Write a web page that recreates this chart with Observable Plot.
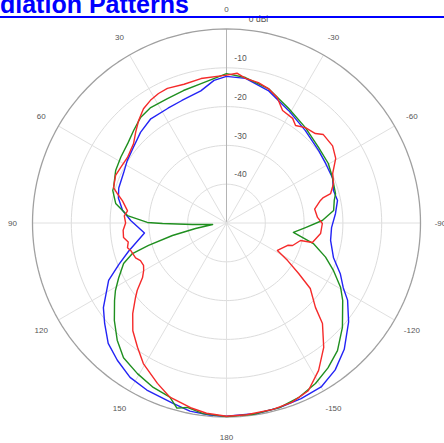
<!DOCTYPE html>
<html>
<head>
<meta charset="utf-8">
<script src="https://cdn.jsdelivr.net/npm/d3@7"></script>
<script src="https://cdn.jsdelivr.net/npm/@observablehq/plot@0.6"></script>
<style>
  html, body { margin: 0; padding: 0; background: #fff; }
  #wrap { position: relative; width: 444px; height: 443px; overflow: hidden; font-family: "Liberation Sans", Arial, sans-serif; }
  #title { position: absolute; left: 0; top: -8px; font-size: 25px; line-height: 25px; font-weight: bold; color: #0000ff; white-space: nowrap; z-index: 2; }
  #rule { position: absolute; left: 0; top: 16px; width: 444px; height: 2px; background: #0000ff; z-index: 2; }
  #chart { position: absolute; left: 0; top: 0; }
</style>
</head>
<body>
<div id="wrap">
  <div id="chart"></div>
  <div id="title">diation Patterns</div>
  <div id="rule"></div>
</div>
<script>
// Angle in degrees (positive = counter-clockwise from top), gain in dBi
const angleTicks = [0, 30, 60, 90, 120, 150, 180, -150, -120, -90, -60, -30];
const ringLevels = [0, -10, -20, -30, -40];
const ringLabels = ["0 dBi", "-10", "-20", "-30", "-40"];

const blue = [
  [0,-12.2],[5,-13.1],[11,-15.3],[20,-16.4],[27,-16.8],[36,-16.8],[43.5,-17.8],[51,-19.1],[58,-19.8],[64,-20.5],
  [72,-20.8],[77,-21.4],[83,-23.0],[88.5,-25.3],[97,-28.7],[106,-23.8],[111,-20.3],[116,-16.2],[124.5,-11.5],
  [129.5,-9.3],[135.5,-6.5],[141.5,-4.8],[148,-3.1],[154.5,-2.3],[163.5,-1.5],[169,-0.6],[175,-0.3],[180,-0.2],
  [-171,-0.3],[-164,-0.5],[-157,-0.8],[-150,-1.2],[-143.5,-2.9],[-137,-5.5],[-129,-9.5],[-122.5,-13.0],[-119,-15.6],
  [-114,-17.9],[-108,-21.0],[-99.5,-22.8],[-92.5,-22.9],[-85,-21.8],[-78.5,-20.8],[-73,-21.2],[-67,-20.3],
  [-59,-20.2],[-52,-19.8],[-40.5,-18.7],[-29,-16.9],[-17.5,-14.2],[-7.5,-12.4]
];

const green = [
  [0,-11.5],[10.6,-13.5],[18,-14.1],[25.4,-14.5],[33.3,-14.4],[39,-14.9],[45,-16.2],[51,-17.3],[58,-17.9],
  [64.7,-18.4],[72.6,-19.5],[74,-19.5],[80,-21.0],[85.7,-24.4],[89.6,-29.6],[90.4,-33.5],[92.5,-41.2],[96,-46.4],
  [100,-41.9],[103,-35.7],[106,-29.1],[108,-24.5],[111.5,-21.5],[117,-18.8],[121.3,-16.5],[124.7,-14.9],
  [131,-11.7],[137,-8.7],[142.6,-6.3],[149.4,-4.9],[156,-3.6],[162,-2.8],[165,-0.6],[168,-1.4],[173,-0.5],[180,-0.1],
  [-172,-0.2],[-164,-0.5],[-157.6,-1.3],[-151,-2.7],[-145,-4.4],[-139,-6.4],[-132,-9.8],[-123.7,-14.0],
  [-119.5,-16.2],[-114,-19.8],[-109,-23.0],[-103.3,-27.0],[-100.8,-30.1],[-98,-32.6],[-93.3,-29.6],[-88.5,-25.3],
  [-83.3,-22.2],[-78,-21.6],[-75,-20.9],[-69.7,-20.6],[-66.8,-20.3],[-59.7,-19.6],[-50.6,-19.3],[-39.6,-18.1],
  [-28.4,-16.4],[-17.3,-13.7],[-7.4,-12.2]
];

const red = [
  [0,-11.9],[10,-12.2],[17,-12.6],[23.7,-12.1],[27.7,-12.3],[31.8,-12.8],[36,-13.6],[40.6,-15.2],[45,-16.9],
  [49.5,-18.5],[56.5,-19.4],[62.4,-19.2],[66.8,-18.9],[72.6,-19.5],[75,-20.9],[78,-22.6],[83,-24.3],[86,-23.6],
  [90,-24.0],[94,-23.3],[98,-23.2],[101,-24.2],[104,-23.7],[106,-24.3],[111,-24.9],[113.6,-25.8],[117,-26.0],
  [119.8,-25.4],[123,-24.2],[127,-21.2],[129.3,-19.7],[134,-16.4],[139,-13.2],[144.4,-10.6],[149.4,-7.9],
  [156.7,-5.0],[162,-2.8],[169,-1.5],[174,-0.7],[180,-0.2],
  [-174,-0.3],[-166,-0.5],[-160,-0.8],[-154,-1.9],[-148,-5.2],[-142,-9.3],[-136.3,-14.2],[-133.5,-18.4],
  [-128,-22.6],[-125,-27.3],[-121.6,-31.5],[-118.3,-35.1],[-110,-33.2],[-108.8,-32.0],[-103.3,-30.4],
  [-102.8,-27.3],[-96.4,-25.6],[-90.3,-25.3],[-86.5,-26.5],[-81,-27.0],[-76.5,-25.1],[-75.3,-24.2],
  [-74.2,-22.1],[-69.7,-20.6],[-65,-19.8],[-59.4,-17.3],[-54,-16.2],[-47.6,-16.2],[-44.8,-17.5],[-39.6,-18.1],
  [-35.3,-19.2],[-32.3,-18.1],[-26.5,-17.6],[-22,-15.1],[-17.3,-13.7],[-12.8,-12.9],[-7.5,-12.4],[-4,-11.3]
];

const series = [
  {data: blue, color: "#2323f5"},
  {data: green, color: "#1f8f1f"},
  {data: red, color: "#f52a2a"}
];

const FLOOR = -50;                       // centre of the plot
const lon = a => 180 + a;                // chart angle -> longitude
const lat = g => 90 - (g - FLOOR);       // gain -> latitude
const closed = d => d.concat([d[0]]);
const font = "Liberation Sans, Arial, sans-serif";
const ringRows = ringLevels.map((v, i) => ({v, label: ringLabels[i]}));

const plot = Plot.plot({
  width: 444,
  height: 443,
  marginLeft: 32,
  marginRight: 24,
  marginTop: 28.5,
  marginBottom: 26.5,
  projection: {
    type: "azimuthal-equidistant",
    rotate: [0, -90],
    clip: false,
    domain: d3.geoCircle().center([0, 90]).radius(-FLOOR)()
  },
  marks: [
    // inner rings
    Plot.geo(ringLevels.slice(1), {
      geometry: g => d3.geoCircle().center([0, 90]).radius(g - FLOOR)(),
      stroke: "#dcdcdc", strokeWidth: 1, fill: "none"
    }),
    // spokes
    Plot.link(angleTicks, {
      x1: t => lon(t), y1: 90, x2: t => lon(t), y2: lat(0),
      stroke: t => t === 0 ? "#b4b4b4" : "#e0e0e0", strokeWidth: 1
    }),
    // outer ring
    Plot.geo([0], {
      geometry: g => d3.geoCircle().center([0, 90]).radius(g - FLOOR)(),
      stroke: "#a0a0a0", strokeWidth: 1.3, fill: "none"
    }),
    // series
    ...series.map(s => Plot.line(closed(s.data), {
      x: d => lon(d[0]), y: d => lat(d[1]),
      stroke: s.color, strokeWidth: 1.4, curve: "linear"
    })),
    // angle labels
    Plot.text(angleTicks, {
      x: t => lon(t), y: lat(0) - 5.15, text: t => String(t),
      fontSize: 8, fill: "#555", fontFamily: font
    }),
    // radial labels
    Plot.text(ringRows, {
      filter: d => d.v !== 0,
      x: lon(0), y: d => lat(d.v) - 2.45, text: "label",
      dx: 14, fontSize: 8.5, fill: "#555", textAnchor: "middle", fontFamily: font
    }),
    Plot.text(ringRows, {
      filter: d => d.v === 0,
      x: lon(0), y: d => lat(d.v) - 2.45, text: "label",
      dx: 32, fontSize: 8.5, fill: "#555", textAnchor: "middle", fontFamily: font
    })
  ]
});
document.getElementById("chart").appendChild(plot);
</script>
</body>
</html>
